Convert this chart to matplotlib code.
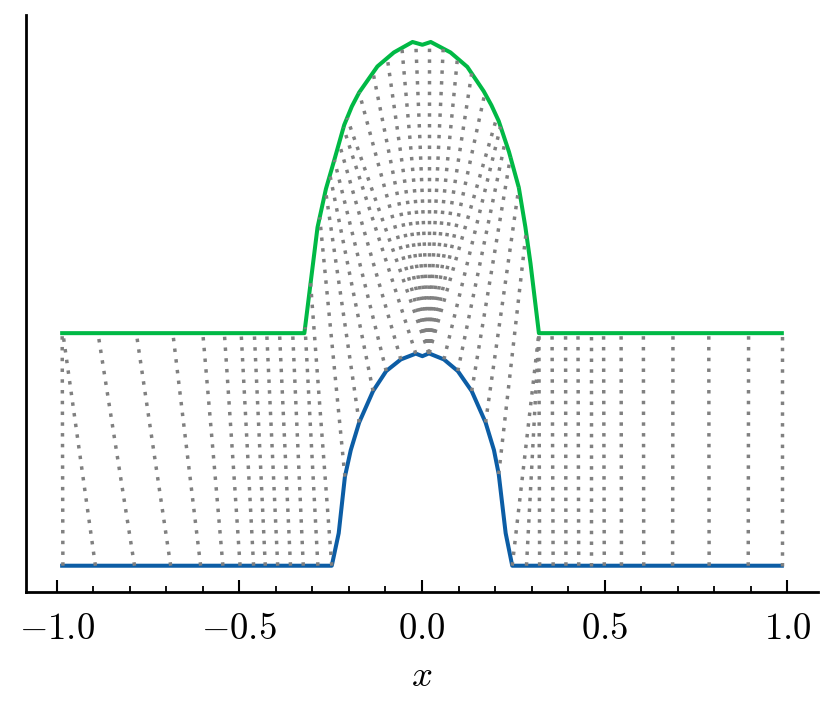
import matplotlib
matplotlib.use("Agg")
import matplotlib.pyplot as plt
import numpy as np

plt.rcParams['font.family'] = 'serif'
plt.rcParams['font.serif'] = ['cmr10', 'DejaVu Serif']
plt.rcParams['mathtext.fontset'] = 'cm'
plt.rcParams['axes.formatter.use_mathtext'] = True

# courbe du bas (bleue)
blue_x = [-0.985, -0.247, -0.228, -0.211, -0.195, -0.172, -0.134, -0.098, -0.058, -0.017,
          0.001, 0.019, 0.060, 0.098, 0.136, 0.174, 0.197, 0.210, 0.229, 0.247, 0.985]
blue_y = [0.0, 0.0, 0.14, 0.383, 0.497, 0.616, 0.751, 0.837, 0.887, 0.912,
          0.901, 0.913, 0.887, 0.837, 0.751, 0.616, 0.497, 0.394, 0.14, 0.0, 0.0]

# courbe du haut (verte)
green_x = [-0.985, -0.322, -0.286, -0.263, -0.240, -0.213, -0.192, -0.172, -0.122, -0.077,
           -0.026, 0.001, 0.024, 0.078, 0.124, 0.169, 0.190, 0.210, 0.238, 0.265, 0.283,
           0.297, 0.320, 0.985]
green_y = [1.0, 1.0, 1.455, 1.62, 1.745, 1.895, 1.975, 2.035, 2.147, 2.207,
           2.252, 2.24, 2.252, 2.207, 2.145, 2.04, 1.98, 1.912, 1.78, 1.626, 1.456,
           1.30, 1.0, 1.0]

# trajectoires : abscisse de depart (bas) et d'arrivee (haut)
start_x = [-0.983, -0.894, -0.787, -0.688, -0.606, -0.545, -0.498, -0.461, -0.429, -0.395,
           -0.360, -0.325, -0.285,
           -0.247, -0.211, -0.172, -0.134, -0.098, -0.058, -0.017,
           0.019, 0.019, 0.019, 0.019, 0.019, 0.019, 0.019, 0.019, 0.019, 0.019, 0.019, 0.019,
           0.060, 0.098, 0.136, 0.174, 0.210, 0.247, 0.286,
           0.322, 0.359, 0.394, 0.429, 0.463, 0.499, 0.546, 0.607, 0.686, 0.786, 0.893, 0.985]
end_x = [-0.985, -0.983, -0.887, -0.782, -0.682, -0.600, -0.541, -0.495, -0.459, -0.425,
         -0.390, -0.354, -0.320,
         -0.305, -0.280, -0.264, -0.252, -0.240, -0.227, -0.215,
         -0.205, -0.172, -0.134, -0.095, -0.055, -0.017, 0.019, 0.058, 0.097, 0.136, 0.172, 0.205,
         0.215, 0.228, 0.242, 0.265, 0.285, 0.320, 0.320,
         0.320, 0.356, 0.393, 0.427, 0.463, 0.497, 0.545, 0.606, 0.687, 0.785, 0.894, 0.985]

xticks = [-1.0, -0.5, 0.0, 0.5, 1.0]

fig = plt.figure(figsize=(8.32, 7.09), dpi=100)
ax = fig.add_axes([26 / 832, 1 - 592 / 709, 792 / 832, 577 / 709])

# Tracé des courbes
ax.plot(blue_x, blue_y, color='#0C5DA5', lw=2.9, zorder=2)
ax.plot(green_x, green_y, color='#00B945', lw=2.9, zorder=2)

# Tracé des trajectoires en pointillés
for x0, x1 in zip(start_x, end_x):
    y0 = np.interp(x0, blue_x, blue_y)
    y1 = np.interp(x1, green_x, green_y)
    ax.plot([x0, x1], [y0, y1], color='gray', lw=2.5, linestyle=(0, (1, 2.1)), zorder=3)

ax.set_xlim(-1.084, 1.084)
ax.set_ylim(-0.113, 2.368)
ax.set_xticks(xticks)
ax.set_xticks(np.arange(-1.0, 1.01, 0.1), minor=True)
ax.set_yticks([])
ax.spines['top'].set_visible(False)
ax.spines['right'].set_visible(False)
for s in ['left', 'bottom']:
    ax.spines[s].set_linewidth(2.0)
ax.tick_params(axis='x', which='major', direction='in', length=8.4, width=1.5,
               labelsize=26.5, pad=15)
ax.tick_params(axis='x', which='minor', direction='in', length=4.2, width=1.3)
ax.set_xlabel('$x$', fontsize=26.5, labelpad=10)

fig.savefig('out.png', dpi=100)
